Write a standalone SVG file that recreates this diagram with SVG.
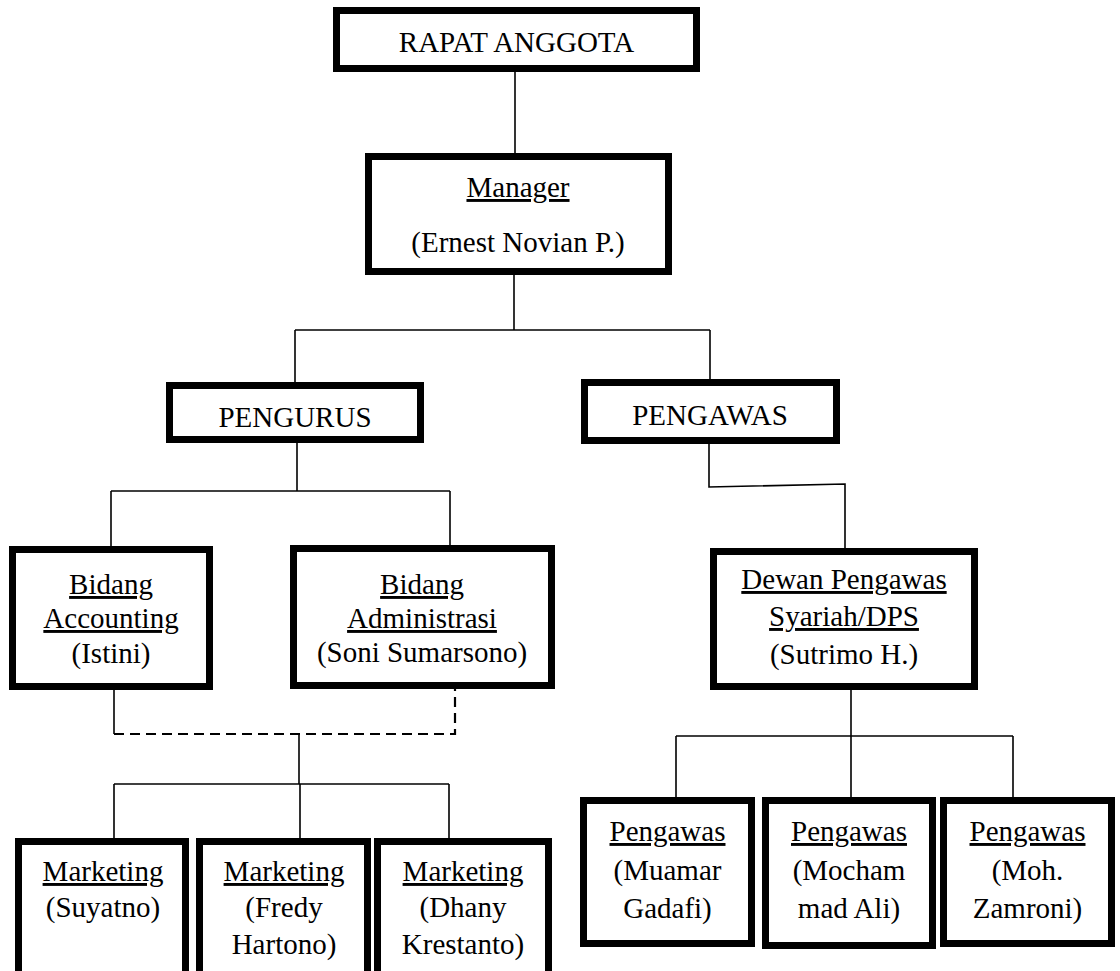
<svg xmlns="http://www.w3.org/2000/svg" width="1120" height="971" viewBox="0 0 1120 971">
<style>
.box{fill:#fff;stroke:#000;stroke-width:7}
.t{font-family:"Liberation Serif","Times New Roman",serif;font-size:29px;fill:#000;text-anchor:middle}
.u{text-decoration:underline}
.ln{fill:none;stroke:#000;stroke-width:1.6}
.dash{fill:none;stroke:#000;stroke-width:2.2;stroke-dasharray:10 6}
</style>
<rect width="1120" height="971" fill="#fff"/>
<g id="connectors">
<path class="ln" d="M515,72V153"/>
<path class="ln" d="M514,275V330"/>
<path class="ln" d="M295,330H710"/>
<path class="ln" d="M295,330V382"/>
<path class="ln" d="M710,330V379"/>
<path class="ln" d="M297,443V491"/>
<path class="ln" d="M111,491H450"/>
<path class="ln" d="M111,491V546"/>
<path class="ln" d="M450,491V545"/>
<path class="ln" d="M709,444V487L845,484V548"/>
<path class="ln" d="M114,690V734"/>
<path class="dash" d="M114,734H455V689"/>
<path class="ln" d="M299,734V784"/>
<path class="ln" d="M114,784H449"/>
<path class="ln" d="M114,784V838M300,784V838M449,784V838"/>
<path class="ln" d="M851,690V736"/>
<path class="ln" d="M676,736H1013"/>
<path class="ln" d="M676,736V797M851,736V797M1013,736V797"/>
</g>
<g id="rapat">
<rect class="box" x="336.5" y="10.5" width="360" height="58"/>
<text class="t" x="516.5" y="52">RAPAT ANGGOTA</text>
</g>
<g id="manager">
<rect class="box" x="368.5" y="156.5" width="300" height="115"/>
<text class="t u" x="518" y="197">Manager</text>
<text class="t" x="518" y="252">(Ernest Novian P.)</text>
</g>
<g id="pengurus">
<rect class="box" x="169.5" y="385.5" width="251" height="54"/>
<text class="t" x="295" y="427">PENGURUS</text>
</g>
<g id="pengawas">
<rect class="box" x="584.5" y="382.5" width="252" height="58"/>
<text class="t" x="710" y="425">PENGAWAS</text>
</g>
<g id="accounting">
<rect class="box" x="12.5" y="549.5" width="197" height="137"/>
<text class="t u" x="111" y="594">Bidang</text>
<text class="t u" x="111" y="628">Accounting</text>
<text class="t" x="111" y="663">(Istini)</text>
</g>
<g id="administrasi">
<rect class="box" x="293.5" y="548.5" width="258" height="137"/>
<text class="t u" x="422" y="594">Bidang</text>
<text class="t u" x="422" y="628">Administrasi</text>
<text class="t" x="422" y="662">(Soni Sumarsono)</text>
</g>
<g id="dps">
<rect class="box" x="713.5" y="551.5" width="261" height="135"/>
<text class="t u" x="844" y="589">Dewan Pengawas</text>
<text class="t u" x="844" y="626">Syariah/DPS</text>
<text class="t" x="844" y="664">(Sutrimo H.)</text>
</g>
<g id="marketing1">
<rect class="box" x="18.5" y="841.5" width="167" height="160"/>
<text class="t u" x="103" y="881">Marketing</text>
<text class="t" x="103" y="917">(Suyatno)</text>
</g>
<g id="marketing2">
<rect class="box" x="199.5" y="841.5" width="168" height="160"/>
<text class="t u" x="284" y="881">Marketing</text>
<text class="t" x="284" y="917">(Fredy</text>
<text class="t" x="284" y="954">Hartono)</text>
</g>
<g id="marketing3">
<rect class="box" x="377.5" y="841.5" width="171" height="160"/>
<text class="t u" x="463" y="881">Marketing</text>
<text class="t" x="463" y="917">(Dhany</text>
<text class="t" x="463" y="954">Krestanto)</text>
</g>
<g id="pengawas1">
<rect class="box" x="583.5" y="800.5" width="168" height="143"/>
<text class="t u" x="667.5" y="841">Pengawas</text>
<text class="t" x="667.5" y="880">(Muamar</text>
<text class="t" x="667.5" y="918">Gadafi)</text>
</g>
<g id="pengawas2">
<rect class="box" x="765.5" y="800.5" width="167" height="145"/>
<text class="t u" x="849" y="841">Pengawas</text>
<text class="t" x="849" y="880">(Mocham</text>
<text class="t" x="849" y="918">mad Ali)</text>
</g>
<g id="pengawas3">
<rect class="box" x="943.5" y="800.5" width="168" height="143"/>
<text class="t u" x="1027.5" y="841">Pengawas</text>
<text class="t" x="1027.5" y="880">(Moh.</text>
<text class="t" x="1027.5" y="918">Zamroni)</text>
</g>
</svg>
